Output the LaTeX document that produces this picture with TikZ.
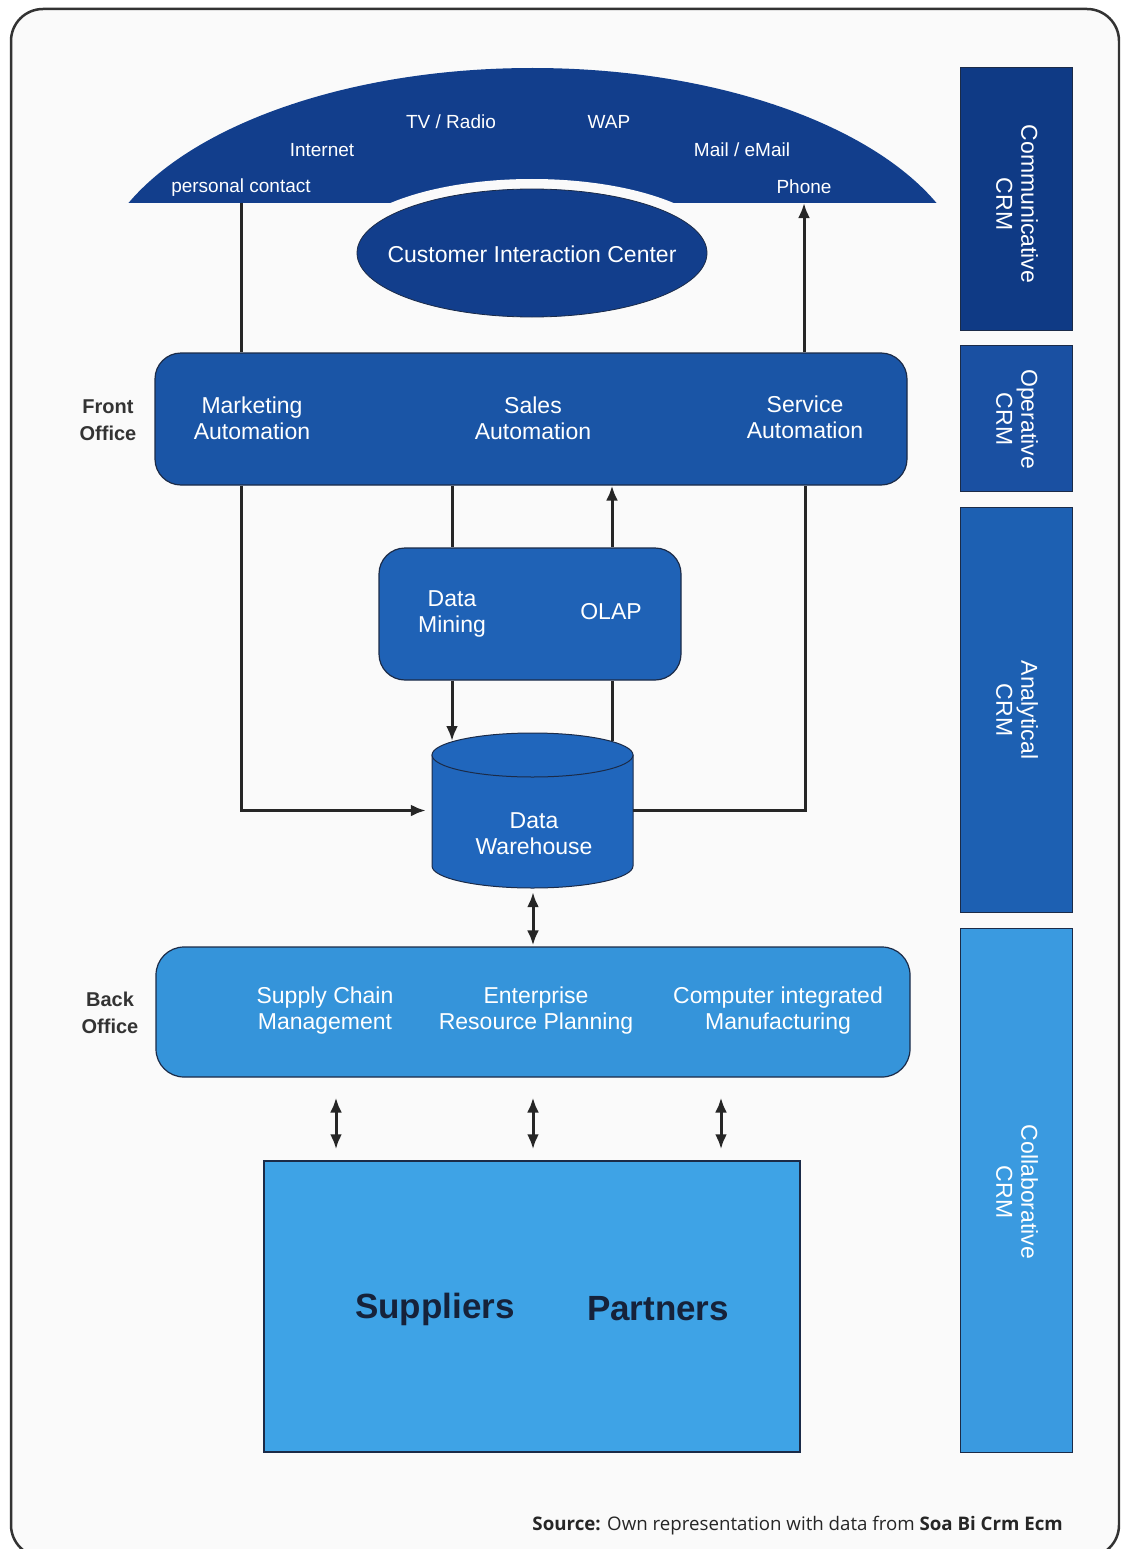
\documentclass[tikz,border=0pt]{standalone}
\usepackage{fontspec}
\setmainfont{Liberation Sans}
\newfontfamily\srcfont{Open Sans}
\usetikzlibrary{arrows.meta,shapes.geometric}
\definecolor{navy}{HTML}{123E8C}
\definecolor{commc}{HTML}{0F3A85}
\definecolor{frontc}{HTML}{1A55A6}
\definecolor{operc}{HTML}{1A50A2}
\definecolor{dmc}{HTML}{1F62B6}
\definecolor{dwc}{HTML}{2066BC}
\definecolor{analc}{HTML}{1D60B2}
\definecolor{backc}{HTML}{3594DA}
\definecolor{collc}{HTML}{3A9AE0}
\definecolor{supc}{HTML}{3EA3E6}
\definecolor{edgec}{HTML}{1B2B48}
\definecolor{linec}{HTML}{262626}
\definecolor{labc}{HTML}{333333}
\begin{document}
\begin{tikzpicture}[x=1pt,y=-1pt,
  box/.style={draw=edgec,line width=1.2pt,rounded corners=26pt,inner sep=0pt},
  bar/.style={draw=edgec,line width=1pt,inner sep=0pt,minimum width=112pt},
  wtxt/.style={text=white,align=center,font=\fontsize{23}{26}\selectfont},
  dtxt/.style={text=white,align=center,font=\fontsize{19}{22}\selectfont},
  side/.style={text=labc,align=center,font=\bfseries\fontsize{20}{27}\selectfont},
  rtxt/.style={text=white,align=center,rotate=-90,font=\fontsize{23}{25}\selectfont},
  conn/.style={draw=linec,line width=3pt},
  arr/.style={conn,-{Latex[length=15pt,width=12pt]}},
  darr/.style={conn,{Latex[length=15pt,width=12pt]}-{Latex[length=15pt,width=12pt]}}]
\useasboundingbox (0,0) rectangle (1120,1549);
\clip (0,0) rectangle (1120,1549);
\fill[white] (0,0) rectangle (1120,1549);
% outer frame
\draw[draw=labc,line width=2.5pt,rounded corners=32pt,fill=white!98!black] (11,9) rectangle (1119,1557);

% dome
\begin{scope}
  \clip (0,0) rectangle (1120,203);
  \fill[navy] (532.5,290) ellipse [x radius=439pt, y radius=222pt];
  \fill[white!98!black] (532,253) ellipse [x radius=192pt, y radius=74pt];
\end{scope}
\node[dtxt] (tv) at (451,122) {TV / Radio};
\node[dtxt] (wap) at (609,122) {WAP};
\node[dtxt] (inet) at (322,150) {Internet};
\node[dtxt] (mail) at (742,150) {Mail / eMail};
\node[dtxt] (pers) at (241,188) {personal contact};
\node[dtxt] (phone) at (804,187) {Phone};
\coordinate (domeL) at (241,203);
\coordinate (domeR) at (804,203);

% customer interaction center
\node[ellipse,fill=navy,draw=edgec,line width=0.8pt,minimum width=350pt,minimum height=128pt,inner sep=0pt] (cic) at (532,253) {};
\node[wtxt] (cict) at (532,254) {Customer Interaction Center};

% front office
\node[box,fill=frontc,minimum width=752pt,minimum height=132pt] (front) at (531,419) {};
\node[wtxt] (mkt) at (252,418) {Marketing\\Automation};
\node[wtxt] (sales) at (533,418) {Sales\\Automation};
\node[wtxt] (serv) at (805,417) {Service\\Automation};
\node[side] (fol) at (108,420) {Front\\Office};

% data mining / OLAP
\node[box,fill=dmc,minimum width=302pt,minimum height=132pt] (dm) at (530,614) {};
\node[wtxt] (dmt) at (452,614) {Data\\Mining};
\node[wtxt] (olap) at (611,612) {OLAP};

% data warehouse cylinder
\node[minimum width=201pt,minimum height=155pt,inner sep=0pt] (dw) at (532.5,810.5) {};
\fill[dwc,draw=edgec,line width=1pt] (432,755) -- (432,866) arc[start angle=180,end angle=360,x radius=100.5pt,y radius=22pt] -- (633,755) -- cycle;
\draw[edgec,line width=1pt,fill=dwc] (532.5,755) ellipse [x radius=100.5pt, y radius=22pt];
\node[wtxt] (dwt) at (534,834) {Data\\Warehouse};
\coordinate (dwA) at (452,741);
\coordinate (dwB) at (612,741);

% back office
\node[box,fill=backc,minimum width=754pt,minimum height=130pt,rounded corners=28pt] (bo) at (533,1012) {};
\node[wtxt] (scm) at (325,1011) {Supply Chain\\Management};
\node[wtxt] (erp) at (536,1011) {Enterprise\\Resource Planning};
\node[wtxt] (cim) at (778,1011) {Computer integrated\\Manufacturing};
\node[side] (bol) at (110,1013) {Back\\Office};

% suppliers
\node[draw=edgec,line width=1.5pt,fill=supc,minimum width=536pt,minimum height=291pt,inner sep=0pt] (sp) at (532,1306.5) {};
\node[text=edgec!80!black,font=\bfseries\fontsize{35}{40}\selectfont] (supl) at (435,1309) {Suppliers};
\node[text=edgec!80!black,font=\bfseries\fontsize{35}{40}\selectfont] (part) at (658,1309) {Partners};

% right bars
\node[bar,fill=commc,minimum height=262pt] (comm) at (1016,199) {};
\node[rtxt] at (1017,204) {Communicative\\CRM};
\node[bar,fill=operc,minimum height=146pt] (oper) at (1016,418) {};
\node[rtxt] at (1017,419) {Operative\\CRM};
\node[bar,fill=analc,minimum height=405pt] (anal) at (1016,709.5) {};
\node[rtxt] at (1017,710) {Analytical\\CRM};
\node[bar,fill=collc,minimum height=524pt] (coll) at (1016,1190) {};
\node[rtxt] at (1017,1192) {Collaborative\\CRM};

% connectors
\coordinate (xa) at (452,0);
\coordinate (xb) at (612,0);
\coordinate (xr) at (805,0);
\coordinate (x1) at (336,0);
\coordinate (x2) at (533,0);
\coordinate (x3) at (721,0);
\draw[conn] (domeL) -- (domeL |- front.north);
\draw[arr] (domeR |- front.north) -- (domeR);
\draw[arr,shorten >=6pt] (domeL |- front.south) |- (dw.west);
\draw[conn] (xa |- front.south) -- (xa |- dm.north);
\draw[arr] (xb |- dm.north) -- (xb |- front.south);
\draw[arr] (xa |- dm.south) -- (dwA);
\draw[conn] (dwB) -- (xb |- dm.south);
\draw[conn] (dw.east) -| (xr |- front.south);
\draw[darr,shorten <=4pt,shorten >=1pt] (x2 |- dw.south) -- (x2 |- bo.north);
\draw[darr,shorten <=20pt,shorten >=11pt] (x1 |- bo.south) -- (x1 |- sp.north);
\draw[darr,shorten <=20pt,shorten >=11pt] (x2 |- bo.south) -- (x2 |- sp.north);
\draw[darr,shorten <=20pt,shorten >=11pt] (x3 |- bo.south) -- (x3 |- sp.north);

% source
\node[anchor=base east,text=black!85,font=\srcfont\fontsize{18.7}{22}\selectfont,inner sep=0pt] (src) at (1063,1530) {\textbf{Source:} Own representation with data from \textbf{Soa Bi Crm Ecm}};
\end{tikzpicture}
\end{document}
